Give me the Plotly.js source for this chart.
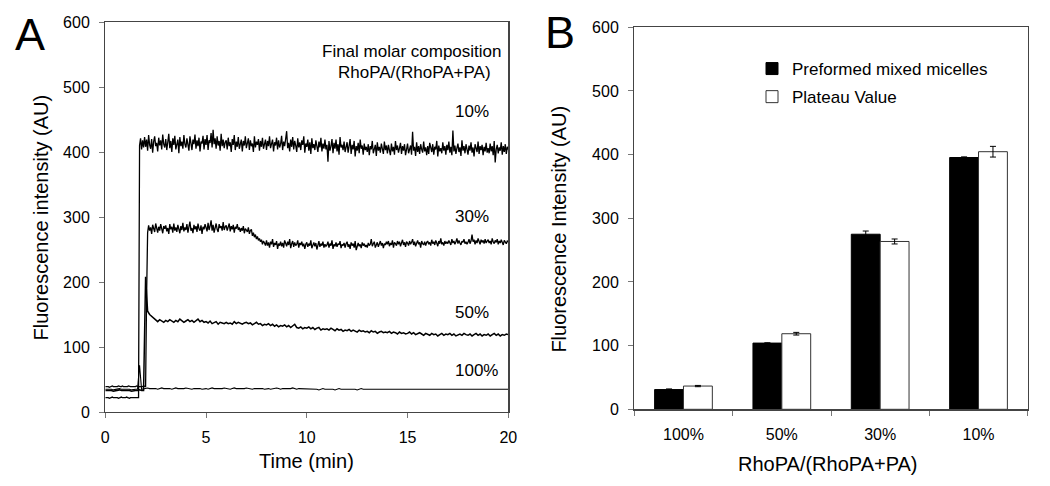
<!DOCTYPE html>
<html>
<head>
<meta charset="utf-8">
<script src="https://cdn.plot.ly/plotly-3.0.1.min.js"></script>
<style>
  html, body { margin: 0; padding: 0; background: #fff; }
  #chart { width: 1050px; height: 486px; }
</style>
</head>
<body>
<div id="chart"></div>
<script>
// ---------- Panel A: fluorescence vs time, 0..20 min ----------
const timeStart = 0;
const timeStepFine = 0.05;   // 10% and 30% traces
const timeStepCoarse = 0.1;  // 50% and 100% traces

const trace10 = [
  22,22,23,22,21,22,22,23,22,22,22,23,22,21,22,22,23,22,22,21,
  22,23,22,22,21,22,22,23,22,22,22,23,22,22,410,421,404,418,407,423,
  408,419,402,426,411,405,420,399,416,424,409,414,401,422,410,418,404,427,412,407,
  420,403,415,428,406,417,400,421,411,425,404,413,419,398,423,409,416,405,426,412,
  407,421,410,402,424,415,403,419,412,427,405,418,409,422,401,416,413,425,404,420,
  411,426,403,418,414,429,407,434,412,421,405,424,410,417,402,428,409,419,406,415,
  418,404,422,409,415,400,420,411,426,403,416,408,423,405,412,419,401,417,410,424,
  406,415,421,403,418,409,413,400,424,407,416,411,420,402,417,408,422,405,414,419,
  403,417,409,424,406,413,419,401,415,410,422,404,418,407,412,425,403,416,409,420,
  432,406,414,401,419,408,423,404,417,410,400,421,407,415,403,418,411,424,399,413,
  408,419,402,415,397,421,406,412,403,418,410,400,416,407,422,401,413,405,419,404,
  411,385,417,402,409,420,398,414,405,419,401,412,396,423,407,411,403,416,400,409,
  415,399,408,420,397,411,404,417,393,409,402,414,398,419,405,410,396,413,403,408,
  400,412,395,409,404,417,398,406,411,394,415,402,408,399,413,405,397,416,403,410,
  398,411,404,395,413,401,408,396,417,403,410,399,406,414,397,409,402,412,395,407,
  413,398,405,410,396,431,402,408,394,415,400,409,397,412,404,399,416,401,407,395,
  409,397,414,403,400,412,396,408,404,417,393,410,401,406,398,415,402,409,396,411,
  403,416,399,408,395,433,401,410,397,406,413,400,407,394,418,402,409,398,412,404,
  396,410,402,415,399,407,393,412,404,400,416,397,409,403,411,395,408,401,414,399,
  406,398,413,401,409,395,417,384,404,411,398,407,402,415,396,409,400,412,397,408,
  404
];

const trace30 = [
  39,39,40,39,38,39,39,40,39,39,39,38,39,40,39,39,39,40,39,39,
  39,38,39,40,39,39,39,39,38,39,39,40,39,39,39,39,38,39,40,39,
  39,180,276,287,279,284,274,288,281,277,290,282,276,285,279,289,280,275,286,282,
  287,278,283,274,289,281,285,276,290,279,284,277,288,282,275,286,280,291,278,284,
  280,289,276,285,293,279,283,275,288,281,286,277,290,282,279,287,274,285,281,289,
  284,278,291,280,286,295,279,288,276,284,290,281,277,289,283,286,279,292,280,285,
  287,279,284,290,278,286,281,288,276,285,282,289,280,284,277,283,279,286,275,282,
  280,277,284,274,279,281,271,276,269,273,266,270,264,267,262,265,258,263,260,256,
  264,256,261,253,262,258,266,254,260,257,263,251,259,256,262,255,260,253,264,257,
  255,262,257,266,252,259,263,254,261,256,258,264,253,260,257,262,255,259,251,258,
  261,254,259,256,264,252,258,261,255,260,250,257,263,254,259,256,262,253,258,255,
  257,262,253,259,256,264,251,258,255,261,254,259,257,263,252,258,256,260,253,259,
  262,254,258,251,261,256,259,253,263,249,257,260,255,258,252,261,256,259,254,257,
  253,260,256,258,266,255,259,262,253,257,261,254,258,263,256,260,252,259,257,262,
  258,263,255,260,257,264,253,261,259,256,263,258,262,255,260,265,257,261,254,262,
  260,256,263,258,261,266,257,262,255,260,264,258,261,253,263,259,257,262,256,261,
  263,258,261,256,265,259,262,257,264,260,255,263,259,267,258,261,256,263,259,262,
  259,264,261,257,266,260,263,258,262,267,259,264,260,257,263,261,266,259,262,258,
  261,266,259,263,273,262,265,258,264,260,267,262,258,265,261,264,259,266,260,263,
  265,260,263,258,267,262,259,264,261,266,258,263,260,265,262,257,264,261,259,263,
  262
];

const trace50 = [
  33,33,34,33,32,33,33,34,33,33,
  33,34,33,32,33,33,33,34,33,33,
  208,155,150,147,144,141,139,142,140,138,
  141,139,142,140,138,141,139,143,140,138,
  140,142,139,141,138,140,143,139,141,138,
  139,137,140,136,138,139,135,138,137,136,
  138,136,137,135,139,136,138,137,135,137,
  138,136,137,134,136,138,135,136,133,135,
  134,136,133,135,132,134,131,133,132,134,
  131,133,130,132,135,130,129,131,128,130,
  129,131,128,130,127,129,130,126,128,127,
  128,126,129,127,125,128,126,127,124,126,
  125,127,124,126,125,123,126,124,125,123,
  124,122,125,123,124,121,123,124,122,123,
  122,124,121,123,122,120,123,121,122,120,
  121,123,120,122,119,121,122,120,118,121,
  120,118,121,119,120,117,119,121,118,120,
  119,121,118,120,117,119,120,118,121,119,
  118,120,117,119,121,118,120,117,119,118,
  120,117,119,121,118,120,117,119,118,120,
  119
];

const trace100 = [
  35,35,36,35,34,35,35,36,35,35,
  35,36,35,34,35,35,35,72,35,36,
  36,37,36,36,37,36,35,36,37,36,
  36,37,36,35,36,37,36,36,35,36,
  37,36,36,35,36,36,37,36,35,36,
  36,35,36,37,36,36,35,36,36,37,
  36,36,35,36,37,36,36,35,36,36,
  37,36,36,35,36,36,36,37,36,35,
  36,36,35,36,36,37,36,35,36,36,
  35,36,36,37,36,35,36,36,35,36,
  36,35,35,36,36,35,34,35,36,35,
  35,36,35,35,34,35,36,35,35,36,
  35,35,36,35,35,34,35,36,35,35,
  36,35,35,36,35,35,36,35,35,36,
  35,36,35,35,36,35,35,36,35,36,
  36,35,36,35,35,36,35,36,36,35,
  35,36,35,36,35,35,36,35,36,35,
  36,35,36,35,36,36,35,35,36,35,
  35,36,35,36,35,36,35,36,35,36,
  36,35,36,35,36,35,35,36,35,36,
  35
];

const compositionLabels = ['10%', '30%', '50%', '100%'];

// ---------- Panel B: bar chart ----------
const categories = ['100%', '50%', '30%', '10%'];
const preformed = [31, 104, 275, 395.5];
const preformedErr = [1, 0.5, 5, 1];
const plateau = [36.5, 118.7, 263.6, 404.6];
const plateauErr = [1, 2.1, 3.9, 8.4];
const seriesNames = ['Preformed mixed micelles', 'Plateau Value'];

// ---------- helpers ----------
const W = 1050, H = 486;
const px = v => v / W;
const py = v => 1 - v / H;
const FONT = 'Liberation Sans, Arial, Helvetica, sans-serif';

function lineTrace(values, step, width) {
  return {
    type: 'scatter', mode: 'lines',
    x0: timeStart, dx: step, y: values,
    xaxis: 'x', yaxis: 'y',
    line: { color: '#000', width: width },
    showlegend: false, hoverinfo: 'skip'
  };
}

const traces = [
  lineTrace(trace100, timeStepCoarse, 1.1),
  lineTrace(trace50, timeStepCoarse, 1.5),
  lineTrace(trace30, timeStepFine, 1.3),
  lineTrace(trace10, timeStepFine, 1.3),
  {
    type: 'bar', name: seriesNames[0], x: categories, y: preformed,
    xaxis: 'x2', yaxis: 'y2', legendgroup: 'g1',
    marker: { color: '#000', line: { color: '#000', width: 1 } },
    error_y: { type: 'data', array: preformedErr, visible: true, color: '#000', thickness: 1, width: 3 }
  },
  {
    type: 'bar', name: seriesNames[1], x: categories, y: plateau,
    xaxis: 'x2', yaxis: 'y2', legendgroup: 'g2',
    marker: { color: '#fff', line: { color: '#333', width: 1 } },
    error_y: { type: 'data', array: plateauErr, visible: true, color: '#000', thickness: 1, width: 3 }
  }
];

const axisCommon = {
  showline: true, linecolor: '#444', linewidth: 1.3, mirror: true,
  showgrid: false, zeroline: false,
  ticks: 'outside', ticklen: 5, tickwidth: 1, tickcolor: '#777',
  tickfont: { family: FONT, size: 16, color: '#000' }
};

const labelYs = [111.7, 216.5, 312.5, 370.8];

const annotations = [
  { text: 'A', x: px(30), y: py(35), xref: 'paper', yref: 'paper', showarrow: false,
    xanchor: 'center', yanchor: 'middle', font: { family: FONT, size: 45, color: '#000' } },
  { text: 'B', x: px(560), y: py(33), xref: 'paper', yref: 'paper', showarrow: false,
    xanchor: 'center', yanchor: 'middle', font: { family: FONT, size: 45, color: '#000' } },
  { text: 'Final molar composition', x: px(412), y: py(51.7), xref: 'paper', yref: 'paper', showarrow: false,
    xanchor: 'center', yanchor: 'middle', font: { family: FONT, size: 17, color: '#000' } },
  { text: 'RhoPA/(RhoPA+PA)', x: px(414.5), y: py(72), xref: 'paper', yref: 'paper', showarrow: false,
    xanchor: 'center', yanchor: 'middle', font: { family: FONT, size: 17, color: '#000' } },
  { text: 'Time (min)', x: px(306.8), y: py(461), xref: 'paper', yref: 'paper', showarrow: false,
    xanchor: 'center', yanchor: 'middle', font: { family: FONT, size: 20, color: '#000' } },
  { text: 'Fluorescence intensity (AU)', x: px(40), y: py(217.5), xref: 'paper', yref: 'paper', showarrow: false,
    textangle: -90, xanchor: 'center', yanchor: 'middle', font: { family: FONT, size: 20, color: '#000' } },
  { text: 'RhoPA/(RhoPA+PA)', x: px(828), y: py(463.5), xref: 'paper', yref: 'paper', showarrow: false,
    xanchor: 'center', yanchor: 'middle', font: { family: FONT, size: 20, color: '#000' } },
  { text: 'Fluorescence Intensity (AU)', x: px(559), y: py(229.6), xref: 'paper', yref: 'paper', showarrow: false,
    textangle: -90, xanchor: 'center', yanchor: 'middle', font: { family: FONT, size: 20, color: '#000' } }
];
compositionLabels.forEach((t, i) => {
  annotations.push({ text: t, x: px(453), y: py(labelYs[i]), xref: 'paper', yref: 'paper', showarrow: false,
    xanchor: 'left', yanchor: 'middle', font: { family: FONT, size: 17, color: '#000' } });
});

const layout = {
  width: W, height: H,
  margin: { l: 0, r: 0, t: 0, b: 0 },
  paper_bgcolor: '#fff', plot_bgcolor: '#fff',
  font: { family: FONT, color: '#000' },
  showlegend: true,
  legend: {
    x: px(752), y: py(51), xanchor: 'left', yanchor: 'top',
    bgcolor: 'rgba(0,0,0,0)', borderwidth: 0,
    font: { family: FONT, size: 17, color: '#000' },
    traceorder: 'grouped', tracegroupgap: 3
  },
  barmode: 'group', bargap: 0.413, bargroupgap: 0,
  xaxis: Object.assign({}, axisCommon, {
    domain: [px(105.3), px(508.3)], range: [0, 20], dtick: 5, tick0: 0, anchor: 'y',
    ticklabelstandoff: 5
  }),
  yaxis: Object.assign({}, axisCommon, {
    domain: [py(412), py(22)], range: [0, 600], dtick: 100, tick0: 0, anchor: 'x',
    ticklabelstandoff: 6
  }),
  xaxis2: Object.assign({}, axisCommon, {
    domain: [px(634.3), px(1027.7)], type: 'category', tickson: 'boundaries', anchor: 'y2',
    ticklabelstandoff: 10
  }),
  yaxis2: Object.assign({}, axisCommon, {
    domain: [py(409.3), py(27.3)], range: [0, 600], dtick: 100, tick0: 0, anchor: 'x2',
    ticklabelstandoff: 6
  }),
  annotations: annotations
};

Plotly.newPlot('chart', traces, layout, { staticPlot: true, displayModeBar: false });
</script>
</body>
</html>
